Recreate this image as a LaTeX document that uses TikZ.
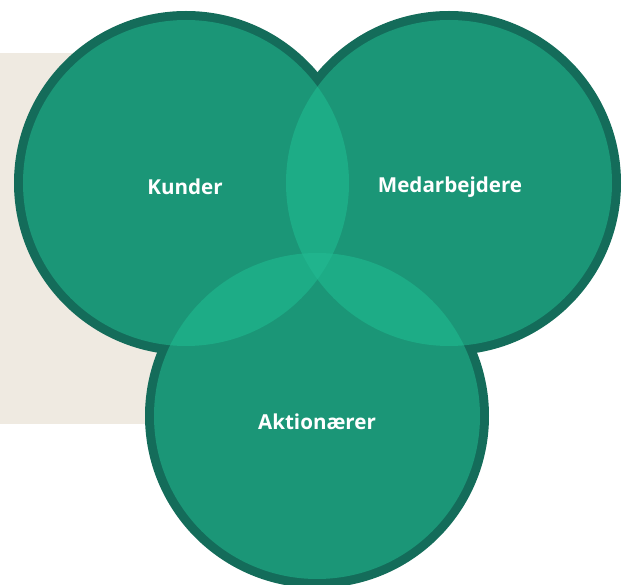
\documentclass[tikz,border=0pt]{standalone}
\usepackage{fontspec}
\setmainfont{Open Sans}
\definecolor{ringdark}{HTML}{146C5A}
\definecolor{discfill}{HTML}{1B9677}
\definecolor{lensfill}{HTML}{1DAC86}
\definecolor{corefill}{HTML}{20B48D}
\definecolor{sand}{HTML}{EFEAE1}
\tikzset{
  ring/.style={fill=ringdark},
  disc/.style={fill=discfill},
  lens/.style={fill=lensfill},
  core/.style={fill=corefill},
  label/.style={text=white, font=\bfseries\fontsize{20.6}{24}\selectfont, inner sep=0pt}
}
\begin{document}
\begin{tikzpicture}[x=1pt,y=-1pt]
  \useasboundingbox (0,0) rectangle (625,585);
  % backdrop panel
  \fill[sand] (0,53) rectangle (300,424);
  % circle centres
  \coordinate (K) at (186,183);
  \coordinate (M) at (449,183);
  \coordinate (A) at (317,416);
  % outer rings
  \foreach \c in {K,M,A} \fill[ring] (\c) circle[radius=172pt];
  % inner discs
  \foreach \c in {K,M,A} \fill[disc] (\c) circle[radius=163pt];
  % pairwise overlaps
  \begin{scope}\clip (K) circle[radius=163pt]; \fill[lens] (M) circle[radius=163pt]; \fill[lens] (A) circle[radius=163pt];\end{scope}
  \begin{scope}\clip (M) circle[radius=163pt]; \fill[lens] (A) circle[radius=163pt];\end{scope}
  % common overlap
  \begin{scope}\clip (K) circle[radius=163pt]; \clip (M) circle[radius=163pt]; \fill[core] (A) circle[radius=163pt];\end{scope}
  % labels
  \node[label] (kunder) at (185,187) {Kunder};
  \node[label] (medarb) at (450,187) {Medarbejdere};
  \node[label] (aktion) at (317,422) {Aktionærer};
\end{tikzpicture}
\end{document}
